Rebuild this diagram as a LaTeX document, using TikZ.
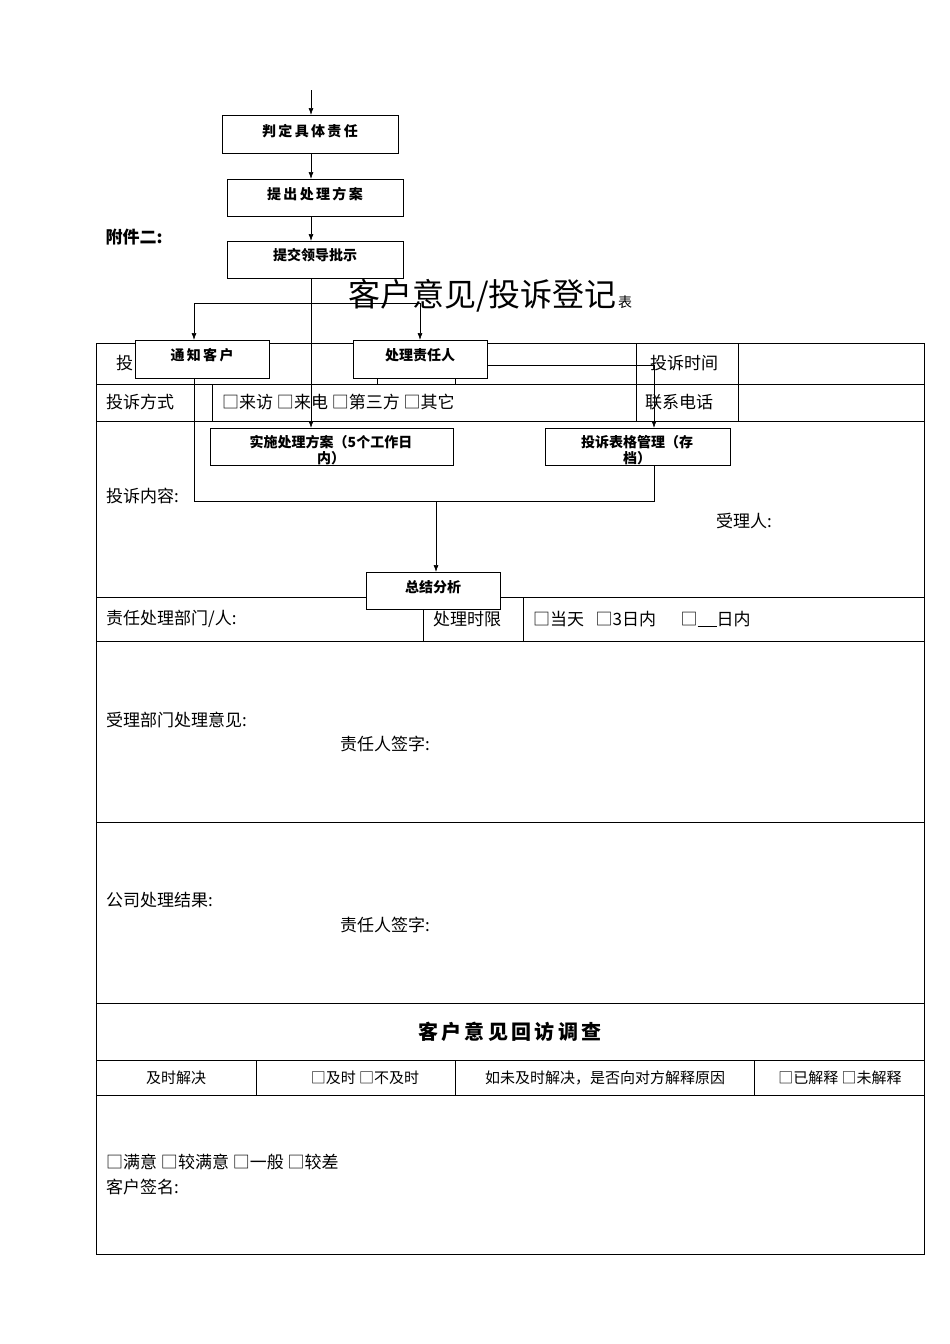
\documentclass[tikz,border=0pt]{standalone}
\usepackage{fontspec}
\setmainfont{Liberation Serif}
\newfontfamily\cjk{Noto Sans CJK SC}
\usetikzlibrary{arrows.meta}
\begin{document}
\begin{tikzpicture}[x=1pt,y=-1pt,
  fbox/.style={draw,line width=0.8pt,anchor=north west,inner sep=0pt},
  btxt/.style={font=\cjk\bfseries\fontsize{14}{16}\selectfont,anchor=north},
  ttxt/.style={font=\cjk\fontsize{17}{19}\selectfont,anchor=west,inner sep=0pt},
  stxt/.style={font=\cjk\fontsize{15}{17}\selectfont,anchor=center,inner sep=0pt},
  arr/.style={-{Latex[length=7pt,width=5pt]},line width=0.7pt},
  ln/.style={line width=0.7pt},
  tl/.style={line width=0.6pt}]
\useasboundingbox[fill=white] (0,0) rectangle (950,1344);
% table
\draw[tl] (96,343) rectangle (924,1254);
\foreach \y in {384,421,597,641,822,1003,1060,1095} \draw[tl] (96,\y) -- (924,\y);
\draw[tl] (636,343) -- (636,421); \draw[tl] (738,343) -- (738,421);
\draw[tl] (212,384) -- (212,421);
\draw[tl] (423,597) -- (423,641); \draw[tl] (523,597) -- (523,641);
\draw[tl] (256,1060) -- (256,1095); \draw[tl] (455,1060) -- (455,1095); \draw[tl] (754,1060) -- (754,1095);
\draw[tl] (377,378) -- (377,384); \draw[tl] (455,378) -- (455,384);
% table texts
\node[ttxt] (t1) at (116,363) {投};
\node[ttxt] (t2) at (650,363) {投诉时间};
\node[ttxt] (t3) at (106,402) {投诉方式};
\node[ttxt] (t4) at (222,402) {□来访 □来电 □第三方 □其它};
\node[ttxt] (t5) at (645,402) {联系电话};
\node[ttxt] (t6) at (106,496) {投诉内容:};
\node[ttxt] (t7) at (716,521) {受理人:};
\node[ttxt] (t8) at (106,619) {责任处理部门/人:};
\node[ttxt] (t9) at (433,619) {处理时限};
\node[ttxt] (t10) at (533,619) {□当天 \ \ □3日内 \quad\ □\underline{\ \ \ \ \ }日内};
\node[ttxt] (t11) at (106,720) {受理部门处理意见:};
\node[ttxt] (t12) at (340,744) {责任人签字:};
\node[ttxt] (t13) at (106,900) {公司处理结果:};
\node[ttxt] (t14) at (340,925) {责任人签字:};
\node[font=\cjk\bfseries\fontsize{20}{22}\selectfont] (t15) at (510,1032) {客\,户\,意\,见\,回\,访\,调\,查};
\node[stxt] (t16) at (176,1078) {及时解决};
\node[stxt] (t17) at (365,1078) {□及时 □不及时};
\node[stxt] (t18) at (605,1078) {如未及时解决，是否向对方解释原因};
\node[stxt] (t19) at (840,1078) {□已解释 □未解释};
\node[ttxt] (t20) at (106,1162) {□满意 □较满意 □一般 □较差};
\node[ttxt] (t21) at (106,1187) {客户签名:};
% title
\node[font=\cjk\bfseries\fontsize{17}{19}\selectfont,anchor=west] (fj) at (102,237) {附件二:};
\node[font=\cjk\fontsize{32}{34}\selectfont,anchor=east,inner sep=0pt] (title) at (617,296) {客户意见/投诉登记};
\node[font=\cjk\fontsize{14}{16}\selectfont,anchor=west,inner sep=0pt] (biao) at (618,302) {表};
% flow boxes
\fill[white] (222,115) rectangle (398,153);
\node[fbox,minimum width=176pt,minimum height=38pt] (b1) at (222,115) {};
\node[btxt] at (310,121) {判\,定\,具\,体\,责\,任};
\fill[white] (227,179) rectangle (403,216);
\node[fbox,minimum width=176pt,minimum height=37pt] (b2) at (227,179) {};
\node[btxt] at (315,184) {提\,出\,处\,理\,方\,案};
\fill[white] (227,241) rectangle (403,278);
\node[fbox,minimum width=176pt,minimum height=37pt] (b3) at (227,241) {};
\node[btxt] at (315,245) {提交领导批示};
\coordinate (top) at (311,90);
\draw[arr] (top) -- (311,115);
\draw[arr] (311,153) -- (311,179);
\draw[arr] (311,216) -- (311,241);
% connectors
\coordinate (h1) at (194,303); \coordinate (h2) at (420,303);
\draw[ln] (h1) -- (h2);
\draw[arr] (h1) -- (194,340);
\draw[arr] (h2) -- (420,340);
\draw[arr] (311,278) -- (311,428);
\fill[white] (135,340) rectangle (269,378);
\node[fbox,minimum width=134pt,minimum height=38pt] (b4) at (135,340) {};
\node[btxt] at (202,345) {通\,知\,客\,户};
\fill[white] (353,340) rectangle (487,378);
\node[fbox,minimum width=134pt,minimum height=38pt] (b5) at (353,340) {};
\node[btxt] at (420,345) {处理责任人};
\coordinate (c1) at (654,365);
\draw[ln] (487,365) -- (c1);
\draw[arr] (c1) -- (654,428);
\draw[ln] (194,378) -- (194,501) -- (654,501) -- (654,465);
\draw[arr] (436,501) -- (436,572);
\fill[white] (210,428) rectangle (453,465);
\node[fbox,minimum width=243pt,minimum height=37pt] (b6) at (210,428) {};
\begin{scope}\clip (210,428) rectangle (453,465);
\node[btxt,align=center,text width=230pt] at (331,432) {实施处理方案（5个工作日\\内）};
\end{scope}
\fill[white] (545,428) rectangle (730,465);
\node[fbox,minimum width=185pt,minimum height=37pt] (b7) at (545,428) {};
\begin{scope}\clip (545,428) rectangle (730,465);
\node[btxt,align=center,text width=170pt] at (637,432) {投诉表格管理（存\\档）};
\end{scope}
\fill[white] (366,572) rectangle (500,609);
\node[fbox,minimum width=134pt,minimum height=37pt] (b8) at (366,572) {};
\node[btxt] at (433,577) {总结分析};
\end{tikzpicture}
\end{document}
